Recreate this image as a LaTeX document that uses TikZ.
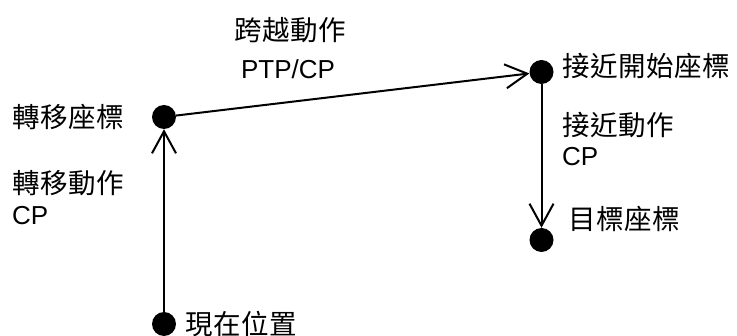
\documentclass[tikz,border=0pt]{standalone}
\usepackage{fontspec}
\setmainfont{Liberation Sans}
\newfontfamily\cjk[LetterSpace=2]{Noto Sans CJK TC}
\usetikzlibrary{arrows.meta}
\begin{document}
\begin{tikzpicture}[x=1pt,y=-1pt,
  waypoint/.style={circle,fill=black,inner sep=0pt,minimum size=24pt},
  cjklbl/.style={inner sep=0pt,font=\cjk\fontsize{27.5}{30}\selectfont},
  latlbl/.style={inner sep=0pt,font=\fontsize{26}{30}\selectfont},
  motion/.style={line width=2pt,-{Straight Barb[length=22pt,width=24pt]}}]
\useasboundingbox (0,0) rectangle (737,336);

% waypoints
\node[waypoint] (cur)   at (164,324) {};
\node[waypoint] (trans) at (164,117) {};
\node[waypoint] (appr)  at (541.5,72) {};
\node[waypoint] (goal)  at (541.5,240) {};

% motions between waypoints
\draw[motion] (cur) -- (trans);
\draw[motion] (trans) -- (appr);
\draw[motion] (appr) -- (goal);

% labels
\node[cjklbl]            (lcross)  at (290,30)   {跨越動作};
\node[latlbl]            (lptp)    at (288,69)   {PTP/CP};
\node[cjklbl,anchor=west] (lappr)  at (562,66)   {接近開始座標};
\node[cjklbl,anchor=west] (lapmv)  at (562,125)  {接近動作};
\node[latlbl,anchor=west] (lapcp)  at (562,157)  {CP};
\node[cjklbl,anchor=west] (lgoal)  at (568,218.5){目標座標};
\node[cjklbl,anchor=west] (ltrans) at (12,117)   {轉移座標};
\node[cjklbl,anchor=west] (ltrmv)  at (12,183)   {轉移動作};
\node[latlbl,anchor=west] (ltrcp)  at (12,216)   {CP};
\node[cjklbl,anchor=west] (lcur)   at (185,324)  {現在位置};
\end{tikzpicture}
\end{document}
